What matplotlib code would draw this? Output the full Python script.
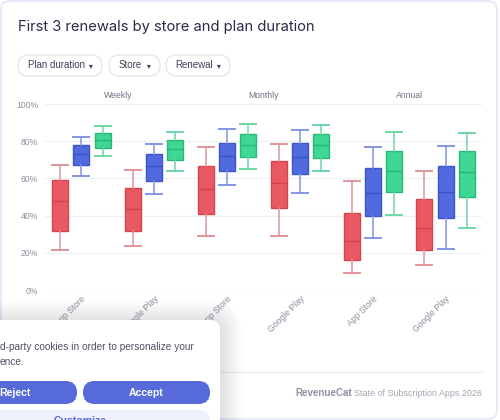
import matplotlib
matplotlib.use("Agg")
import matplotlib.pyplot as plt
from matplotlib.patches import FancyBboxPatch
from matplotlib.lines import Line2D
from matplotlib.transforms import Affine2D

# ---------------- data ----------------
plans = ["Weekly", "Monthly", "Annual"]
stores = ["App Store", "Google Play"]
renewals = ["1st renewal", "2nd renewal", "3rd renewal"]
y_ticks = [0, 20, 40, 60, 80, 100]

# order: Weekly AS, Weekly GP, Monthly AS, Monthly GP, Annual AS, Annual GP
r1_low = [21.3, 23.4, 28.8, 29.1, 9.3, 13.4]
r1_q1 = [31.8, 31.8, 41.1, 44.1, 16.3, 21.6]
r1_med = [47.9, 43.6, 54.1, 57.7, 26.6, 33.6]
r1_q3 = [58.9, 54.8, 66.8, 69.3, 41.4, 48.9]
r1_high = [67.3, 64.3, 76.8, 78.4, 58.8, 64.1]

r2_low = [61.4, 51.6, 56.4, 52.3, 28.0, 22.1]
r2_q1 = [67.3, 58.8, 64.1, 62.3, 40.0, 38.9]
r2_med = [73.0, 66.8, 72.1, 71.6, 52.0, 52.5]
r2_q3 = [77.9, 72.9, 79.3, 78.9, 65.5, 66.8]
r2_high = [82.1, 78.4, 86.3, 85.9, 77.1, 77.3]

r3_low = [71.8, 63.9, 64.8, 64.1, 40.4, 33.6]
r3_q1 = [76.6, 69.8, 71.6, 70.9, 52.5, 50.2]
r3_med = [80.7, 75.9, 77.9, 77.7, 64.1, 63.6]
r3_q3 = [84.5, 80.5, 83.9, 83.8, 75.0, 74.5]
r3_high = [88.0, 84.8, 89.3, 88.9, 84.8, 84.5]

series = [
    (r1_low, r1_q1, r1_med, r1_q3, r1_high),
    (r2_low, r2_q1, r2_med, r2_q3, r2_high),
    (r3_low, r3_q1, r3_med, r3_q3, r3_high),
]

fill_colors = ["#E9545F", "#4B65DF", "#37D690"]
edge_colors = ["#D4404C", "#3B51C9", "#26B676"]
whisk_colors = ["#E2959B", "#8396E3", "#6ED6A6"]

W, H = 500, 420
plt.rcParams["font.family"] = ["Liberation Sans", "DejaVu Sans"]
fig = plt.figure(figsize=(W / 100, H / 100), dpi=100)
fig.patch.set_facecolor("white")

T = Affine2D().scale(1 / W, -1 / H).translate(0, 1) + fig.transFigure

# card border
fig.patches.append(FancyBboxPatch((1, 1), 496, 418,
                                  boxstyle="round,pad=0,rounding_size=9",
                                  transform=T, facecolor="white",
                                  edgecolor="#E3E6F7", lw=1.2, zorder=-5))

# title
fig.text(18, 27, "First 3 renewals by store and plan duration", transform=T,
         fontsize=10.6, color="#2A2C48", va="center", ha="left",
         family=["Inter", "DejaVu Sans"])

# dropdown pills
pills = [("Plan duration", 18, 102), ("Store", 109, 160), ("Renewal", 166, 230)]
for label, x0, x1 in pills:
    fig.patches.append(FancyBboxPatch((x0, 55), x1 - x0, 21,
                                      boxstyle="round,pad=0,rounding_size=10.5",
                                      transform=T, facecolor="white",
                                      edgecolor="#E3E5EC", lw=0.9))
    fig.text((x0 + x1) / 2 - 4, 65.5, label, transform=T, fontsize=7,
             color="#3E4157", ha="center", va="center")
    fig.text(x1 - 11, 66, "\u25BE", transform=T, fontsize=5.5,
             color="#3E4157", ha="center", va="center",
             family=["DejaVu Sans"])

# ---------------- chart ----------------
ax = fig.add_axes([45 / W, 1 - 290 / H, 437 / W, 186 / H])
ax.set_xlim(0, 6)
ax.set_ylim(0, 100)
for s in ax.spines.values():
    s.set_visible(False)
ax.set_yticks(y_ticks)
ax.set_yticklabels([f"{v}%" for v in y_ticks])
ax.grid(axis="y", color="#EFF0F4", lw=0.9)
ax.set_axisbelow(True)
ax.tick_params(axis="y", length=0, pad=5, labelsize=6.2, labelcolor="#8B8D9C")

centers = [i + 0.5 for i in range(6)]
ax.set_xticks(centers)
ax.set_xticklabels(stores * 3, rotation=45, ha="right", va="top",
                   rotation_mode="anchor")
ax.tick_params(axis="x", length=0, pad=3, labelsize=6.2, labelcolor="#8B8D9C")

for i, plan in enumerate(plans):
    ax.text(2 * i + 1, 104.8, plan, ha="center", va="center", fontsize=6.2,
            color="#6E7184", clip_on=False)

offsets = [-0.29, 0.0, 0.29]
bw = 0.22
for k, (lo, q1, med, q3, hi) in enumerate(series):
    stats = []
    for j in range(6):
        stats.append(dict(whislo=lo[j], q1=q1[j], med=med[j], q3=q3[j],
                          whishi=hi[j], fliers=[], label=""))
    pos = [c + offsets[k] for c in centers]
    ax.bxp(stats, positions=pos, widths=bw, capwidths=bw, patch_artist=True,
           showfliers=False, manage_ticks=False,
           boxprops=dict(facecolor=fill_colors[k], edgecolor=edge_colors[k],
                         lw=1.0, alpha=0.97),
           medianprops=dict(color=edge_colors[k], lw=1.0),
           whiskerprops=dict(color=whisk_colors[k], lw=1.1),
           capprops=dict(color=whisk_colors[k], lw=1.4))

# footer
fig.lines.append(Line2D([18, 482], [372, 372], transform=T, color="#EEEFF5",
                        lw=0.9))
fig.text(295, 393.5, "RevenueCat", transform=T, fontsize=7,
         fontweight="bold", color="#8F91A2", ha="left", va="center")
fig.text(482, 393.5, "State of Subscription Apps 2026", transform=T,
         fontsize=6.4, color="#A2A4B3", ha="right", va="center")

# ---------------- cookie banner overlay ----------------
for i in range(10):
    g = 2 + i * 2.2
    fig.patches.append(FancyBboxPatch((-30 - g, 320 - g + 3), 250 + 2 * g,
                                      140 + 2 * g,
                                      boxstyle=f"round,pad=0,rounding_size={10 + g}",
                                      transform=T, facecolor="#1E2040",
                                      edgecolor="none", alpha=0.012,
                                      zorder=9))
fig.patches.append(FancyBboxPatch((-30, 320), 250, 140,
                                  boxstyle="round,pad=0,rounding_size=10",
                                  transform=T, facecolor="white",
                                  edgecolor="none", zorder=10))
fig.text(-0.5, 347, "d-party cookies in order to personalize your",
         transform=T, fontsize=7.3, color="#4E5165", ha="left", va="center",
         zorder=11)
fig.text(-0.5, 362, "ence.", transform=T, fontsize=7.3, color="#4E5165",
         ha="left", va="center", zorder=11)

fig.patches.append(FancyBboxPatch((-40, 381), 117, 23,
                                  boxstyle="round,pad=0,rounding_size=11.5",
                                  transform=T, facecolor="#566AD9",
                                  edgecolor="none", zorder=10))
fig.text(-0.5, 392.5, "Reject", transform=T, fontsize=7.6, fontweight="bold",
         color="white", ha="left", va="center", zorder=11)
fig.patches.append(FancyBboxPatch((83, 381), 127, 23,
                                  boxstyle="round,pad=0,rounding_size=11.5",
                                  transform=T, facecolor="#566AD9",
                                  edgecolor="none", zorder=10))
fig.text(146.5, 392.5, "Accept", transform=T, fontsize=7.6,
         fontweight="bold", color="white", ha="center", va="center",
         zorder=11)
fig.patches.append(FancyBboxPatch((-40, 410), 250, 30,
                                  boxstyle="round,pad=0,rounding_size=11.5",
                                  transform=T, facecolor="#EFF1FC",
                                  edgecolor="none", zorder=10))
fig.text(80, 416, "Customize", transform=T, fontsize=7.6,
         fontweight="bold", color="#566AD9", ha="center", va="top",
         zorder=11)

fig.savefig("out.png", dpi=100, facecolor="white")
